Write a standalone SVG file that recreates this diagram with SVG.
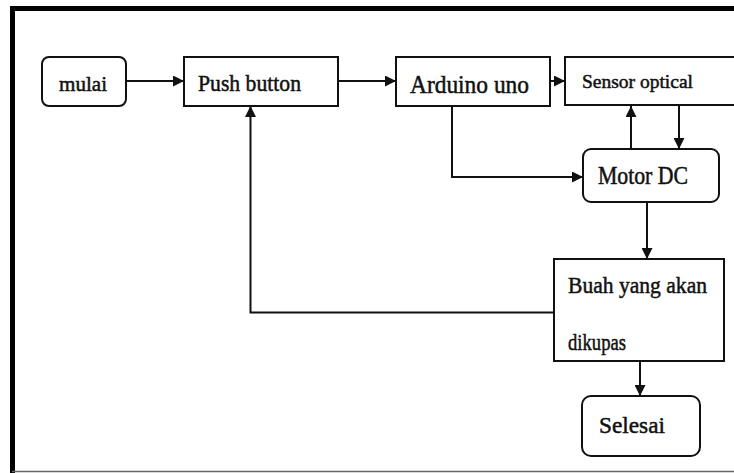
<svg xmlns="http://www.w3.org/2000/svg" width="734" height="473" viewBox="0 0 734 473" font-family="'Liberation Serif', 'DejaVu Serif', serif">
  <style>
    .box { fill: #ffffff; stroke: #111111; stroke-width: 2; }
    .wire { fill: none; stroke: #111111; stroke-width: 2; }
    text { font-family: 'Liberation Serif', 'DejaVu Serif', serif; fill: #111111; stroke: #111111; stroke-width: 0.5; }
  </style>
  <defs>
    <marker id="arrow" markerUnits="userSpaceOnUse" markerWidth="12" markerHeight="11" refX="11" refY="5.5" orient="auto">
      <path d="M0,0 L11,5.5 L0,11 z" fill="#111111"/>
    </marker>
  </defs>

  <rect width="734" height="473" fill="#ffffff"/>

  <!-- page frame -->
  <g id="frame">
    <path d="M12.5,473 V8.5 H734" fill="none" stroke="#000000" stroke-width="5"/>
    <line x1="12" y1="471.5" x2="734" y2="471.5" stroke="#666666" stroke-width="1.5"/>
  </g>

  <!-- connectors -->
  <g id="connectors">
    <line class="wire" x1="126" y1="81" x2="184" y2="81" marker-end="url(#arrow)"/>
    <line class="wire" x1="338" y1="81" x2="396" y2="81" marker-end="url(#arrow)"/>
    <line class="wire" x1="550" y1="81" x2="565" y2="81" marker-end="url(#arrow)"/>
    <polyline class="wire" points="452,106 452,177 583,177" marker-end="url(#arrow)"/>
    <line class="wire" x1="631" y1="149" x2="631" y2="106" marker-end="url(#arrow)"/>
    <line class="wire" x1="679" y1="106" x2="679" y2="149" marker-end="url(#arrow)"/>
    <line class="wire" x1="647" y1="202" x2="647" y2="259" marker-end="url(#arrow)"/>
    <polyline class="wire" points="554,312.5 250.5,312.5 250.5,106" marker-end="url(#arrow)"/>
    <line class="wire" x1="640" y1="361" x2="640" y2="396" marker-end="url(#arrow)"/>
  </g>

  <g id="mulai">
    <rect class="box" x="42" y="57" width="84" height="49" rx="7"/>
    <text x="59" y="91" font-size="21" textLength="48" lengthAdjust="spacingAndGlyphs">mulai</text>
  </g>

  <g id="push-button">
    <rect class="box" x="184" y="57" width="154" height="49"/>
    <text x="198" y="91" font-size="24" textLength="103" lengthAdjust="spacingAndGlyphs">Push button</text>
  </g>

  <g id="arduino-uno">
    <rect class="box" x="396" y="57" width="154" height="49"/>
    <text x="410" y="93" font-size="25" textLength="119" lengthAdjust="spacingAndGlyphs">Arduino uno</text>
  </g>

  <g id="sensor-optical">
    <path class="box" d="M735,57 H565 V105 H735"/>
    <text x="582" y="88" font-size="19.5" textLength="111" lengthAdjust="spacingAndGlyphs">Sensor optical</text>
  </g>

  <g id="motor-dc">
    <rect class="box" x="583" y="149" width="136" height="53" rx="8"/>
    <text x="598" y="184" font-size="25" textLength="90" lengthAdjust="spacingAndGlyphs">Motor DC</text>
  </g>

  <g id="buah">
    <rect class="box" x="554" y="259" width="170" height="102"/>
    <text x="568" y="293" font-size="24" textLength="139" lengthAdjust="spacingAndGlyphs">Buah yang akan</text>
    <text x="568" y="350" font-size="24" textLength="58" lengthAdjust="spacingAndGlyphs">dikupas</text>
  </g>

  <g id="selesai">
    <rect class="box" x="582" y="396" width="118" height="60" rx="9"/>
    <text x="599" y="433" font-size="24" textLength="66" lengthAdjust="spacingAndGlyphs">Selesai</text>
  </g>
</svg>
